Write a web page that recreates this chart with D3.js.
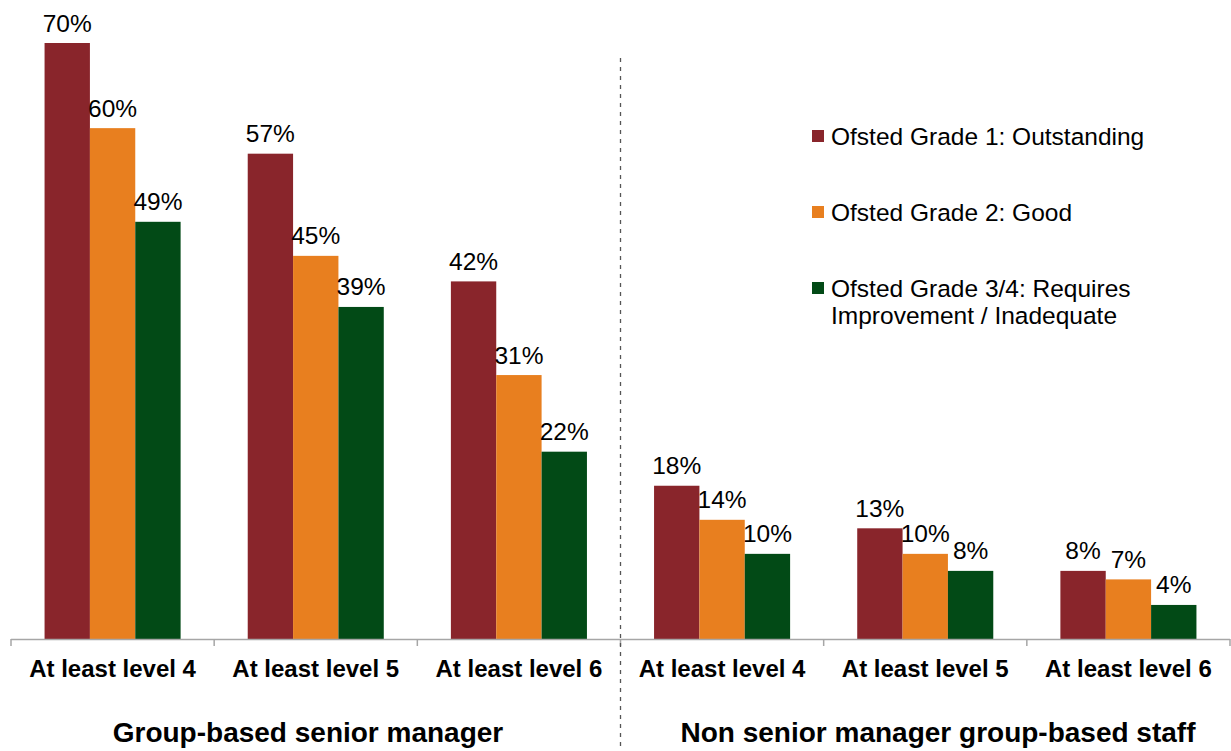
<!DOCTYPE html>
<html>
<head>
<meta charset="utf-8">
<script src="https://cdn.jsdelivr.net/npm/d3@7"></script>
<style>
  body { margin: 0; background: #fff; }
  text { font-family: "Liberation Sans", Arial, sans-serif; }
</style>
</head>
<body>
<div id="chart"></div>
<script>
var categories = ["At least level 4", "At least level 5", "At least level 6",
                  "At least level 4", "At least level 5", "At least level 6"];
var groups = ["Group-based senior manager", "Non senior manager group-based staff"];
var seriesNames = ["Ofsted Grade 1: Outstanding", "Ofsted Grade 2: Good",
                   "Ofsted Grade 3/4: Requires Improvement / Inadequate"];
var grade1 = [70, 57, 42, 18, 13, 8];
var grade2 = [60, 45, 31, 14, 10, 7];
var grade34 = [49, 39, 22, 10, 8, 4];
var colors = ["#89252B", "#E87F1F", "#024A16"];

var width = 1231,
    height = 751;

var svg = d3.select("#chart").append("svg")
    .attr("width", width)
    .attr("height", height);

var x0 = d3.scaleBand()
    .domain(d3.range(categories.length))
    .range([11, 1230]);

var x1 = d3.scaleBand()
    .domain(d3.range(seriesNames.length))
    .range([0, x0.bandwidth()])
    .paddingOuter(0.74);

var y = d3.scaleLinear()
    .domain([0, 70])
    .range([639, 43]);

var series = [grade1, grade2, grade34];

// bars
var cat = svg.selectAll(".cat")
    .data(categories).enter().append("g")
    .attr("class", "cat")
    .attr("transform", function (d, i) { return "translate(" + x0(i) + ",0)"; });

cat.selectAll("rect")
    .data(function (d, i) { return series.map(function (s, j) { return { s: j, v: s[i] }; }); })
    .enter().append("rect")
    .attr("x", function (d) { return x1(d.s); })
    .attr("width", x1.bandwidth())
    .attr("y", function (d) { return y(d.v); })
    .attr("height", function (d) { return y(0) - y(d.v); })
    .attr("fill", function (d) { return colors[d.s]; });

cat.selectAll(".val")
    .data(function (d, i) { return series.map(function (s, j) { return { s: j, v: s[i] }; }); })
    .enter().append("text")
    .attr("class", "val")
    .attr("x", function (d) { return x1(d.s) + x1.bandwidth() / 2; })
    .attr("y", function (d) { return y(d.v) - 11.5; })
    .attr("text-anchor", "middle")
    .attr("font-size", "24.5px")
    .attr("fill", "#000")
    .text(function (d) { return d.v + "%"; });

// x axis line and ticks
svg.append("line")
    .attr("x1", 11).attr("x2", 1230)
    .attr("y1", 639.5).attr("y2", 639.5)
    .attr("stroke", "#A6A6A6").attr("stroke-width", 1.5);

svg.selectAll(".tick")
    .data(d3.range(categories.length + 1))
    .enter().append("line")
    .attr("class", "tick")
    .attr("x1", function (d) { return d < categories.length ? x0(d) : x0.range()[1]; })
    .attr("x2", function (d) { return d < categories.length ? x0(d) : x0.range()[1]; })
    .attr("y1", 639).attr("y2", 646)
    .attr("stroke", "#A6A6A6").attr("stroke-width", 1.5);

// category labels
svg.selectAll(".catlabel")
    .data(categories).enter().append("text")
    .attr("class", "catlabel")
    .attr("x", function (d, i) { return x0(i) + x0.bandwidth() / 2; })
    .attr("y", 677)
    .attr("text-anchor", "middle")
    .attr("font-size", "24px")
    .attr("font-weight", "bold")
    .text(function (d) { return d; });

// group labels
var groupX = [308, 938];
svg.selectAll(".grouplabel")
    .data(groups).enter().append("text")
    .attr("class", "grouplabel")
    .attr("x", function (d, i) { return groupX[i]; })
    .attr("y", 742)
    .attr("text-anchor", "middle")
    .attr("font-size", "28px")
    .attr("font-weight", "bold")
    .text(function (d) { return d; });

// dashed separator
svg.append("line")
    .attr("x1", x0(3)).attr("x2", x0(3))
    .attr("y1", 58).attr("y2", height)
    .attr("stroke", "#555").attr("stroke-width", 1.3)
    .attr("stroke-dasharray", "4,5");

// legend
var legendY = [136, 212, 288];
var legend = svg.selectAll(".legend")
    .data(seriesNames).enter().append("g")
    .attr("class", "legend")
    .attr("transform", function (d, i) { return "translate(812," + legendY[i] + ")"; });

legend.append("rect")
    .attr("x", 0).attr("y", -6)
    .attr("width", 12).attr("height", 12)
    .attr("fill", function (d, i) { return colors[i]; });

legend.append("text")
    .attr("x", 19)
    .attr("y", 9)
    .attr("font-size", "24.5px")
    .attr("fill", "#000")
    .each(function (d, i) {
        var t = d3.select(this);
        var lines = i === 2 ? ["Ofsted Grade 3/4: Requires", "Improvement / Inadequate"] : [d];
        lines.forEach(function (l, k) {
            t.append("tspan").attr("x", 19).attr("dy", k === 0 ? 0 : 26.5).text(l);
        });
    });
</script>
</body>
</html>
